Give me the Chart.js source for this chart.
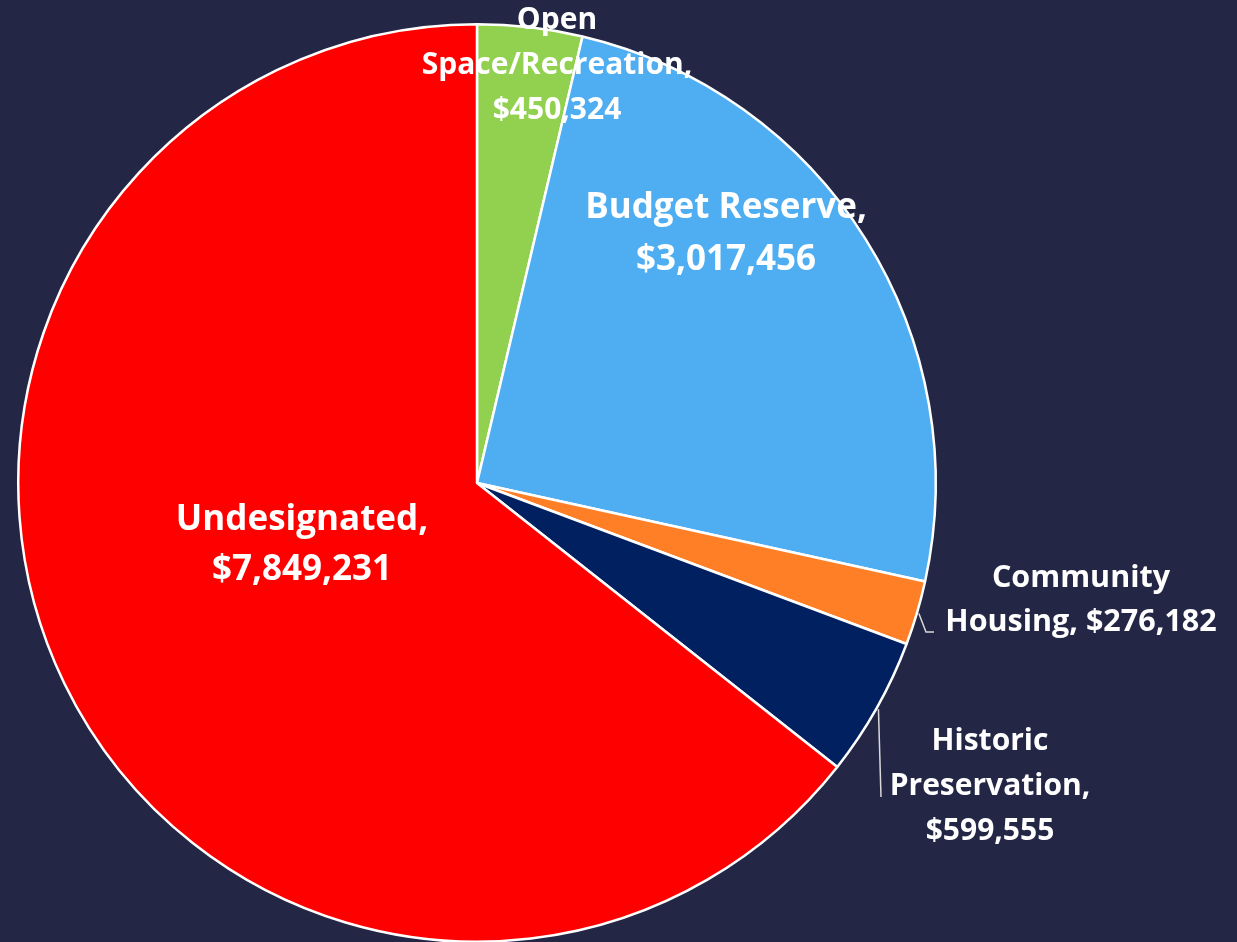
<!DOCTYPE html>
<html>
<head>
<meta charset="utf-8">
<script src="https://cdn.jsdelivr.net/npm/chart.js@4"></script>
<style>
  html, body { margin: 0; padding: 0; background: #232745; overflow: hidden; }
  #wrap { position: relative; width: 1237px; height: 950px; }
</style>
</head>
<body>
<div id="wrap"><canvas id="fundChart"></canvas></div>
<script>
const categories = ["Open Space/Recreation", "Budget Reserve", "Community Housing", "Historic Preservation", "Undesignated"];
const amounts = [450324, 3017456, 276182, 599555, 7849231];
const sliceColors = ["#92d050", "#4fadf2", "#ff7f27", "#002060", "#ff0000"];

// label text lines and where they sit (canvas px), plus leader lines
const labelLines = [
    ["Open", "Space/Recreation,", "$450,324"],
    ["Budget Reserve,", "$3,017,456"],
    ["Community", "Housing, $276,182"],
    ["Historic", "Preservation,", "$599,555"],
    ["Undesignated,", "$7,849,231"]
];
const labelSpots = [
    { x: 557, y: 20, lh: 45, size: 30 },
    { x: 726, y: 208, lh: 52, size: 35 },
    { x: 1081, y: 578, lh: 44, size: 30.5 },
    { x: 990, y: 741, lh: 45, size: 30 },
    { x: 302, y: 520, lh: 50, size: 35 }
];

const money = v => "$" + v.toLocaleString("en-US");

const labelPlugin = {
    id: "sliceLabels",
    afterDatasetsDraw(chart) {
        const ctx = chart.ctx;
        const arcs = chart.getDatasetMeta(0).data;
        ctx.save();

        // leader lines
        ctx.strokeStyle = "#d9d9d9";
        ctx.lineWidth = 1.5;
        const ch = arcs[2];
        const chMid = (ch.startAngle + ch.endAngle) / 2;
        ctx.beginPath();
        ctx.moveTo(ch.x + Math.cos(chMid) * (ch.outerRadius + 2), ch.y + Math.sin(chMid) * (ch.outerRadius + 2));
        ctx.lineTo(926, 632);
        ctx.lineTo(934, 632);
        ctx.stroke();

        const hp = arcs[3];
        const hpMid = (hp.startAngle + hp.endAngle) / 2;
        ctx.beginPath();
        ctx.moveTo(hp.x + Math.cos(hpMid) * (hp.outerRadius + 2), hp.y + Math.sin(hpMid) * (hp.outerRadius + 2));
        ctx.lineTo(881, 797);
        ctx.stroke();

        ctx.fillStyle = "#ffffff";
        ctx.textAlign = "center";
        ctx.textBaseline = "middle";
        labelLines.forEach((lines, i) => {
            const spot = labelSpots[i];
            ctx.font = "bold " + spot.size + "px 'Open Sans', sans-serif";
            lines.forEach((line, j) => {
                ctx.fillText(line, spot.x, spot.y + j * spot.lh);
            });
        });
        ctx.restore();
    }
};

new Chart(document.getElementById("fundChart"), {
    type: "pie",
    data: {
        labels: categories,
        datasets: [{
            data: amounts,
            backgroundColor: sliceColors,
            borderColor: "#ffffff",
            borderWidth: 2.5
        }]
    },
    options: {
        responsive: true,
        maintainAspectRatio: false,
        animation: false,
        layout: { padding: { left: 16, top: 23, right: 299, bottom: 7 } },
        plugins: {
            legend: { display: false },
            tooltip: {
                callbacks: { label: c => c.label + ", " + money(c.raw) }
            }
        }
    },
    plugins: [labelPlugin]
});
</script>
</body>
</html>
